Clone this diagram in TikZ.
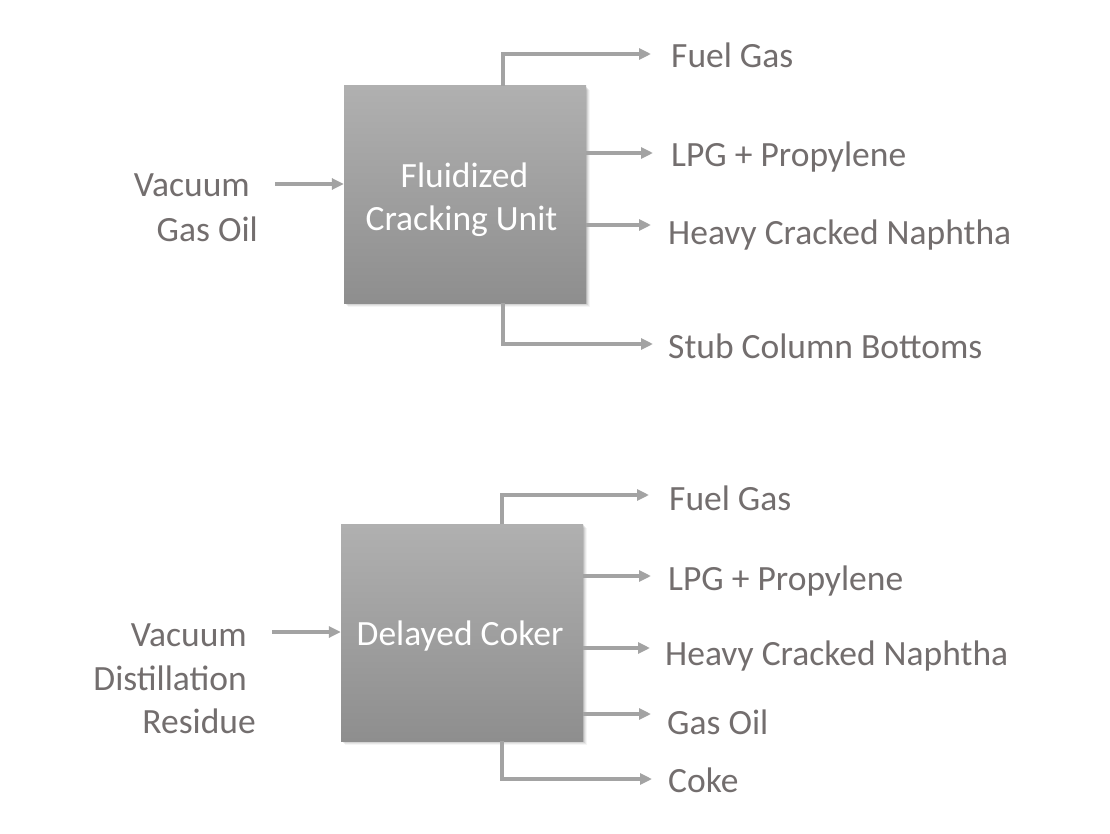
\documentclass[tikz,border=0pt]{standalone}
\usepackage{fontspec}
\setmainfont{Carlito}
\usetikzlibrary{arrows.meta}
\definecolor{txtgray}{HTML}{736E6E}
\definecolor{arrgray}{HTML}{A3A3A3}
\definecolor{boxtop}{HTML}{B0B0B0}
\definecolor{boxbot}{HTML}{8E8E8E}
\begin{document}
\begin{tikzpicture}[x=1pt,y=-1pt,
  unitbox/.style={rectangle, minimum width=242pt, minimum height=217pt,
    top color=boxtop, bottom color=boxbot, draw=none, inner sep=0pt},
  boxtxt/.style={anchor=base, inner sep=0pt, text=white, font=\fontsize{35.5}{43}\selectfont},
  lbl/.style={anchor=base west, inner sep=0pt, text=txtgray, font=\fontsize{35.5}{43}\selectfont},
  lblr/.style={anchor=base east, inner sep=0pt, text=txtgray, font=\fontsize{35.5}{43}\selectfont},
  arr/.style={draw=arrgray, line width=3.3pt, -{Triangle[length=12pt,width=11pt]}}]
\useasboundingbox (0,0) rectangle (1110,834);
\fill[white] (0,0) rectangle (1110,834);

% soft shadows
\foreach \d/\o in {1/0.10,2/0.08,3/0.06,4/0.04}{
  \fill[black,opacity=\o] (344+\d,86+\d) rectangle (586+\d,303+\d);
  \fill[black,opacity=\o] (341+\d,524+\d) rectangle (583+\d,741+\d);
}

% ---- Unit 1 ----
\node[unitbox] (b1) at (465,194.5) {};
\node[boxtxt] (b1t1) at (464.5,188) {Fluidized};
\node[boxtxt] (b1t2) at (461.5,231) {Cracking Unit};

\node[lblr] (in1a) at (250,197) {Vacuum};
\node[lblr] (in1b) at (258,241) {Gas Oil};
\coordinate (in1s) at (275,184);
\draw[arr] (in1s) -- (b1.west |- in1s);

\node[lbl] (o1a) at (671,68) {Fuel Gas};
\node[lbl] (o1b) at (671,167) {LPG + Propylene};
\node[lbl] (o1c) at (668,244) {Heavy Cracked Naphtha};
\node[lbl] (o1d) at (668,358) {Stub Column Bottoms};
\coordinate (t1a) at (651,54);
\coordinate (t1b) at (653,153);
\coordinate (t1c) at (651,225);
\coordinate (t1d) at (653,344);
\draw[arr] ([xshift=38pt]b1.north) |- (t1a);
\draw[arr] (b1.east |- t1b) -- (t1b);
\draw[arr] (b1.east |- t1c) -- (t1c);
\draw[arr] ([xshift=38pt]b1.south) |- (t1d);

% ---- Unit 2 ----
\node[unitbox] (b2) at (462,632.5) {};
\node[boxtxt] (b2t) at (460,645) {Delayed Coker};

\node[lblr] (in2a) at (247,646) {Vacuum};
\node[lblr] (in2b) at (247,690) {Distillation};
\node[lblr] (in2c) at (256,733) {Residue};
\coordinate (in2s) at (272,632);
\draw[arr] (in2s) -- (b2.west |- in2s);

\node[lbl] (o2a) at (669,510) {Fuel Gas};
\node[lbl] (o2b) at (668,590) {LPG + Propylene};
\node[lbl] (o2c) at (665,665) {Heavy Cracked Naphtha};
\node[lbl] (o2d) at (667,734) {Gas Oil};
\node[lbl] (o2e) at (668,792) {Coke};
\coordinate (t2a) at (649,495);
\coordinate (t2b) at (651,576);
\coordinate (t2c) at (650,648);
\coordinate (t2d) at (651,714);
\coordinate (t2e) at (652,779);
\draw[arr] ([xshift=40pt]b2.north) |- (t2a);
\draw[arr] (b2.east |- t2b) -- (t2b);
\draw[arr] (b2.east |- t2c) -- (t2c);
\draw[arr] (b2.east |- t2d) -- (t2d);
\draw[arr] ([xshift=40pt]b2.south) |- (t2e);
\end{tikzpicture}
\end{document}
